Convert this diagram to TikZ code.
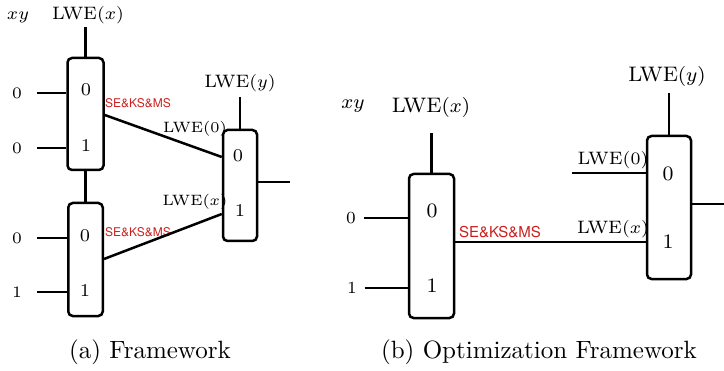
\documentclass[tikz,border=0pt]{standalone}
\usepackage{fontspec}
\newfontfamily\labelsans{TeX Gyre Heros}
\usetikzlibrary{positioning}
\tikzset{
muxbox/.style={
  draw=black,
  line width=1pt,
  rounded corners=1.8pt,
  inner sep=0pt,
  }
}
\tikzset{
wire/.style={
  line width=1pt,
  }
}
\tikzset{
redtag/.style={
  text={rgb,255:red,205;green,30;blue,30},
  inner sep=0pt,
  }
}

\begin{document}
\begin{tikzpicture}[x=0.4pt,y=-0.4pt]
    \useasboundingbox (0,0) rectangle (724,371);

    % (a) two muxes feeding a third
    \begin{scope}[every node/.append style={inner sep=0pt}]
    \node[font=\fontsize{6.8}{7}\selectfont] (xy_a) at (18,17) {$xy$};
    \node[font=\fontsize{7.2}{8}\selectfont] (lwex_a) at (88,15) {LWE$(x)$};
    \node[muxbox, minimum width=14.4pt, minimum height=44.8pt] (mux1) at (85.5,114) {};
    \node[muxbox, minimum width=13.8pt, minimum height=45.2pt] (mux2) at (85.5,259.5) {};
    \node[muxbox, minimum width=13.6pt, minimum height=44.4pt] (mux3) at (240,185.5) {};
    \node[font=\fontsize{7.2}{8}\selectfont] (lwey_a) at (240,83) {LWE$(y)$};

    % inputs
    \begin{scope}[font=\fontsize{6.4}{7}\selectfont]
    \node (in1) at (17,93) {0};
    \node (in2) at (17,148) {0};
    \node (in3) at (17,238) {0};
    \node (in4) at (17,292) {1};
    \end{scope}
    \begin{scope}[font=\fontsize{7.2}{8}\selectfont]
    \node (m1a) at (86,90) {0};
    \node (m1b) at (86,146) {1};
    \node (m2a) at (85,236) {0};
    \node (m2b) at (85,291) {1};
    \node (m3a) at (238,156) {0};
    \node (m3b) at (240,211) {1};
    \end{scope}

    \node[redtag, font=\labelsans\fontsize{4.8}{6}\selectfont] (op1) at (138,103) {SE\&KS\&MS};
    \node[redtag, font=\labelsans\fontsize{4.8}{6}\selectfont] (op2) at (138,232) {SE\&KS\&MS};
    \node[font=\fontsize{6}{7}\selectfont] (lwe0_a) at (195,129) {LWE$(0)$};
    \node[font=\fontsize{6}{7}\selectfont] (lwex2_a) at (195,202) {LWE$(x)$};
    \coordinate (out_a) at (290,182);

    % edges
    \draw[wire] (mux1.north |- 0,27) -- (mux1.north);
    \draw[wire] (mux1.south) -- (mux2.north);
    \draw[wire] (mux3.north |- 0,97) -- (mux3.north);
    \foreach \i/\m in {in1/mux1,in2/mux1,in3/mux2,in4/mux2}
      \draw[wire] ([xshift=8pt]\i.center) -- (\m.west |- \i);
    \draw[wire] (mux1.east |- 0,115) -- (mux3.west |- 0,157);
    \draw[wire] (mux2.east |- 0,259) -- (mux3.west |- 0,214);
    \draw[wire] (mux3.east |- out_a) -- (out_a);
    \end{scope}

    % (b) one mux feeding the second
    \begin{scope}[every node/.append style={inner sep=0pt}]
    \node[font=\fontsize{8}{9}\selectfont] (xy_b) at (353,106) {$xy$};
    \node[font=\fontsize{8.4}{10}\selectfont] (lwex_b) at (431,108) {LWE$(x)$};
    \node[muxbox, minimum width=18pt, minimum height=57.6pt] (muxA) at (431.5,246) {};
    \node[muxbox, minimum width=17.6pt, minimum height=57.2pt] (muxB) at (669,207.5) {};
    \node[font=\fontsize{8.4}{10}\selectfont] (lwey_b) at (667,77) {LWE$(y)$};

    \node[font=\fontsize{6.8}{8}\selectfont] (inA) at (351,218) {0};
    \node[font=\fontsize{6.8}{8}\selectfont] (inB) at (352,288) {1};
    \begin{scope}[font=\fontsize{8.2}{9}\selectfont]
    \node (mAa) at (432,211) {0};
    \node (mAb) at (432,286) {1};
    \node (mBa) at (668,174) {0};
    \node (mBb) at (668,242) {1};
    \end{scope}

    \node[redtag, font=\labelsans\fontsize{6}{7}\selectfont] (op3) at (500,232) {SE\&KS\&MS};
    \node[font=\fontsize{7.2}{9}\selectfont] (lwe0_b) at (613,160) {LWE$(0)$};
    \node[font=\fontsize{7.2}{9}\selectfont] (lwex2_b) at (613,229) {LWE$(x)$};
    \coordinate (zero_b) at (572,173);
    \coordinate (out_b) at (724,204);

    % edges
    \draw[wire] (muxA.north |- 0,133) -- (muxA.north);
    \draw[wire] (muxB.north |- 0,93) -- (muxB.north);
    \draw[wire] ([xshift=5pt]inA.center) -- (muxA.west |- inA);
    \draw[wire] ([xshift=5pt]inB.center) -- (muxA.west |- inB);
    \draw[wire] (muxA.east |- 0,242) -- (muxB.west |- 0,242);
    \draw[wire] (zero_b) -- (muxB.west |- zero_b);
    \draw[wire] (muxB.east |- out_b) -- (out_b);
    \end{scope}

    % captions
    \node (cap_a) at (150,352) {(a) Framework};
    \node (cap_b) at (539,352) {(b) Optimization Framework};
\end{tikzpicture}
\end{document}
